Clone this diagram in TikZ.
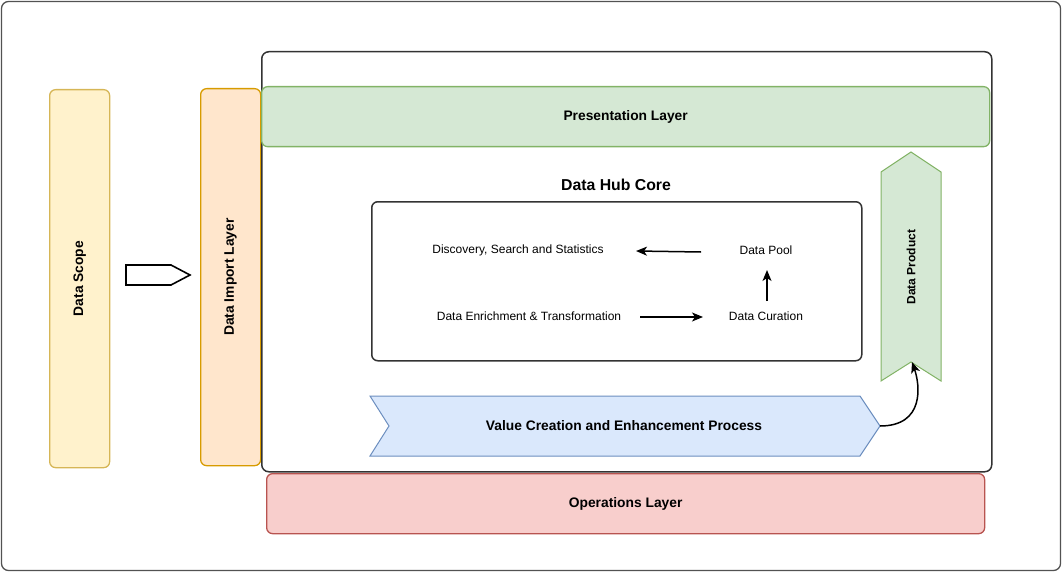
\documentclass[tikz,border=0pt]{standalone}
\usepackage{fontspec}
\setmainfont{Liberation Sans}
\usetikzlibrary{arrows.meta}
\definecolor{scopeF}{HTML}{FFF2CC}\definecolor{scopeD}{HTML}{D6B656}
\definecolor{impF}{HTML}{FFE6CC}\definecolor{impD}{HTML}{D79B00}
\definecolor{presF}{HTML}{D5E8D4}\definecolor{presD}{HTML}{82B366}
\definecolor{opsF}{HTML}{F8CECC}\definecolor{opsD}{HTML}{B85450}
\definecolor{vcF}{HTML}{DAE8FC}\definecolor{vcD}{HTML}{6C8EBF}
\definecolor{frameD}{HTML}{333333}
\begin{document}
\begin{tikzpicture}[x=1pt,y=-1pt,
  bigfont/.style={font=\bfseries\fontsize{13.8}{16}\selectfont},
  layer/.style={draw,line width=1.3pt,rounded corners=6pt,bigfont},
  lbl/.style={font=\fontsize{12}{14}\selectfont,inner sep=0pt},
  arr/.style={-{Stealth[length=11pt,width=9pt,inset=3pt]},line width=1.5pt}]
\useasboundingbox (0,0) rectangle (1062,572);
% outer frame
\draw[draw=frameD!85,line width=1.3pt,rounded corners=7pt] (1.5,1.5) rectangle (1060.5,570.5);
% Data Scope
\node[layer,fill=scopeF,draw=scopeD,minimum width=60pt,minimum height=378pt,anchor=north west] (scope) at (49,89) {};
\node[rotate=90,bigfont] (scopet) at (scope.center) {Data Scope};
% Data Import Layer
\node[layer,fill=impF,draw=impD,minimum width=60pt,minimum height=377pt,anchor=north west] (imp) at (200,88) {};
\node[rotate=90,bigfont] (impt) at (imp.center) {Data Import Layer};
% main frame
\node[draw=frameD,line width=1.5pt,rounded corners=7pt,minimum width=730pt,minimum height=420pt,anchor=north west] (main) at (261,51) {};
% Presentation layer
\node[layer,fill=presF,draw=presD,minimum width=728pt,minimum height=60pt,anchor=north west] (pres) at (261,86) {Presentation Layer};
% Operations layer
\node[layer,fill=opsF,draw=opsD,minimum width=718pt,minimum height=60pt,anchor=north west] (ops) at (266,473) {Operations Layer};
% hollow arrow between scope and import
\draw[line width=1.6pt,fill=white] (126,265) -- (171,265) -- (190,275) -- (171,285) -- (126,285) -- cycle;
% Core
\node[font=\bfseries\fontsize{15.8}{18}\selectfont] (coret) at (616,185) {Data Hub Core};
\node[draw=frameD,line width=1.5pt,rounded corners=6pt,minimum width=490pt,minimum height=159pt,anchor=north west] (core) at (371,201) {};
\node[lbl] (disc) at (518,250) {Discovery, Search and Statistics};
\node[lbl] (pool) at (766,250) {Data Pool};
\node[lbl] (enr) at (529,316) {Data Enrichment \& Transformation};
\node[lbl] (cur) at (766,316) {Data Curation};
\coordinate (pa) at (701,252);
\coordinate (pb) at (636,251);
\coordinate (ea) at (640,317);
\coordinate (eb) at (703,317);
\coordinate (ca) at (767,301);
\coordinate (cb) at (767,270);
\draw[arr] (pa) -- (pb);
\draw[arr] (ea) -- (eb);
\draw[arr] (ca) -- (cb);
% Value creation chevron
\draw[fill=vcF,draw=vcD,line width=1pt] (370,396) -- (860,396) -- (880,426) -- (860,456) -- (370,456) -- (389,426) -- cycle;
\coordinate (vctip) at (880,426);
\node[bigfont] (vc) at (624,426) {Value Creation and Enhancement Process};
% Data product chevron
\draw[fill=presF,draw=presD,line width=1pt] (881,172) -- (911,152) -- (941,172) -- (941,381) -- (911,362) -- (881,381) -- cycle;
\coordinate (dpnotch) at (912,362);
\node[rotate=90,font=\bfseries\fontsize{12}{14}\selectfont] (dp) at (911,267) {Data Product};
\draw[arr] (vctip) .. controls (925,426) and (920,385) .. (dpnotch);
\end{tikzpicture}
\end{document}
